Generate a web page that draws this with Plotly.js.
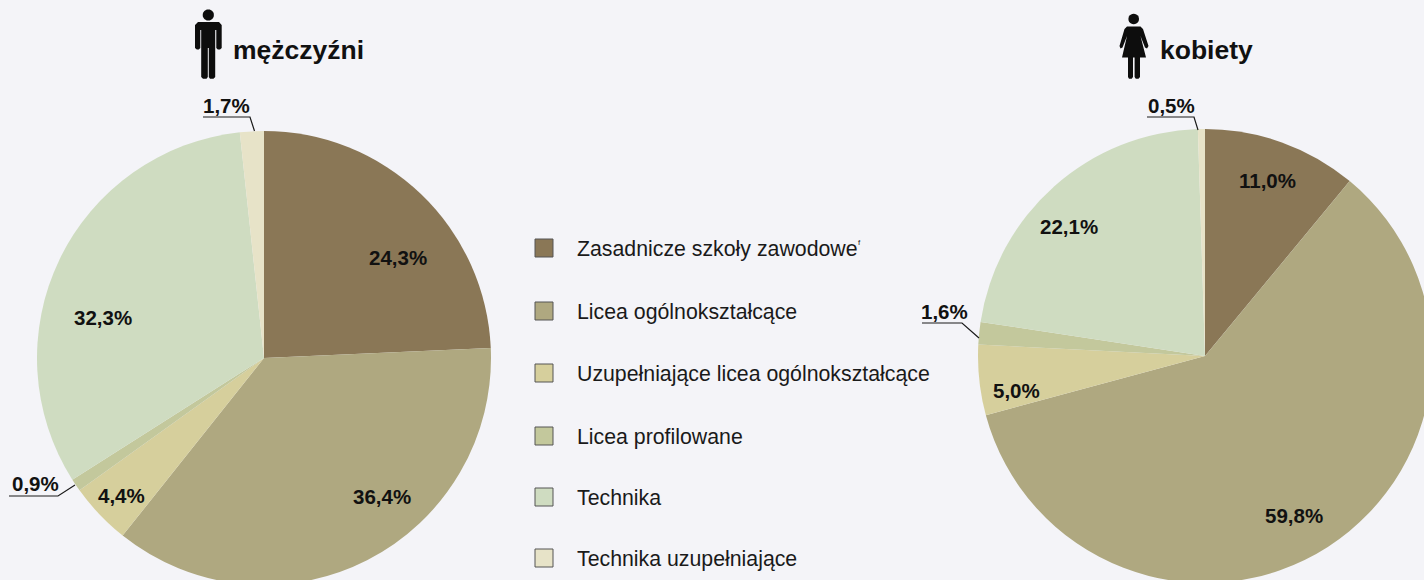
<!DOCTYPE html>
<html><head><meta charset="utf-8">
<script src="https://cdn.plot.ly/plotly-3.0.1.min.js"></script>
<style>html,body{margin:0;padding:0;background:#f4f4f8;overflow:hidden;width:1424px;height:580px}#c{width:1500px;height:640px}</style>
</head><body><div id="c"></div>
<script>
const categories = ['Zasadnicze szkoły zawodowe','Licea ogólnokształcące','Uzupełniające licea ogólnokształcące','Licea profilowane','Technika','Technika uzupełniające'];
const menValues = [24.3,36.4,4.4,0.9,32.3,1.7];
const womenValues = [11.0,59.8,5.0,1.6,22.1,0.5];
const colors = ['#8a7756','#afa880','#d6cf9c','#c3c89c','#cfdcc1','#e7e3c8'];
const legendY = [248,311,373,436,497,558];
const menLabelPos = [[398,257],[382,496],[122,495],[35,483],[103,317],[226,105]];
const womenLabelPos = [[1267,180],[1294,515],[1016,390],[944,311],[1069,226],[1171,105]];

const W = 1500, H = 640;
const px = x => x / W, py = y => 1 - y / H;
const fmt = v => v.toFixed(1).replace('.', ',') + '%';
const FONT = '"Liberation Sans", Arial, sans-serif';

function pie(values, x0, x1, y0, y1) {
  return {type:'pie', values, labels:categories, sort:false, direction:'clockwise', rotation:0,
    marker:{colors, line:{color:'#f4f4f8', width:0}}, textinfo:'none', hoverinfo:'label+percent',
    showlegend:false, domain:{x:[px(x0),px(x1)], y:[py(y1),py(y0)]}};
}
const annotations = [], shapes = [];
function txt(text, x, y, size, bold, anchor) {
  annotations.push({text: bold ? '<b>'+text+'</b>' : text, x:px(x), y:py(y), xref:'paper', yref:'paper',
    xanchor:anchor||'center', yanchor:'middle', showarrow:false, font:{family:FONT, size, color:bold?'#111':'#1a1a1a'}, borderpad:0, borderwidth:0});
}
menValues.forEach((v,i)=>txt(fmt(v), menLabelPos[i][0], menLabelPos[i][1], 20.5, true));
womenValues.forEach((v,i)=>txt(fmt(v), womenLabelPos[i][0], womenLabelPos[i][1], 20.5, true));
txt('mężczyźni', 233, 50, 26.5, true, 'left');
txt('kobiety', 1160, 50, 26.5, true, 'left');
categories.forEach((t,i)=>{
  txt(t, 577, legendY[i]+1, 21.3, false, 'left');
  shapes.push({type:'rect', xref:'paper', yref:'paper', x0:px(535), x1:px(553), y0:py(legendY[i]-9), y1:py(legendY[i]+9),
    fillcolor:colors[i], line:{color:'#555', width:1}});
});
txt('f', 859, 243, 8, false);
function poly(list){ return 'M'+list.map(p=>px(p[0])+','+py(p[1])).join(' L')+' Z'; }
function circle(cx,cy,r){
  const a=[]; for(let k=0;k<24;k++){const t=k/24*2*Math.PI;a.push([cx+r*Math.cos(t),cy+r*Math.sin(t)]);} return poly(a);
}
function dark(d){ shapes.push({type:'path', xref:'paper', yref:'paper', path:d, fillcolor:'#0d0d0d', line:{width:0}}); }
function leader(list){ shapes.push({type:'path', xref:'paper', yref:'paper',
  path:'M'+list.map(p=>px(p[0])+','+py(p[1])).join(' L'), line:{color:'#1a1a1a', width:1.2}}); }
leader([[203,117],[250,117],[254.5,131]]);
leader([[9,496],[58,496],[75,485]]);
leader([[922,323],[962,323],[979,338]]);
leader([[1147,117],[1194,117],[1198,130]]);

// man
dark(circle(208.3,15,5.6));
dark(poly([[198,22],[219,22],[221.7,25],[221.7,48],[220,49.5],[217.8,49.5],[216.3,48],[216.3,30],[215.2,30],[215.2,77],[213.5,78.7],[210,78.7],[208.8,77],[208.8,48],[207.8,48],[207.8,77],[206.5,78.7],[203,78.7],[201.2,77],[201.2,30],[200.3,30],[200.3,48],[198.8,49.5],[196.8,49.5],[195,48],[195,25]]));
// woman
dark(circle(1133.7,19,5.3));
dark(poly([[1127,26.5],[1140.5,26.5],[1143,29],[1148.5,46],[1147,48.5],[1145,47.5],[1140.5,36],[1146,57.5],[1140,57.5],[1140,77],[1138.5,78.7],[1135.8,78.7],[1134.6,77],[1134.6,57.5],[1133,57.5],[1133,77],[1131.7,78.7],[1129,78.7],[1128,77],[1128,57.5],[1122,57.5],[1127,36],[1122.5,47.5],[1120.5,48.5],[1119.5,46],[1124.5,29]]));

Plotly.newPlot('c', [
  pie(menValues, 37, 491, 131, 585),
  pie(womenValues, 978, 1432, 129, 583)
], {
  width:W, height:H, margin:{l:0,r:0,t:0,b:0}, paper_bgcolor:'#f4f4f8', plot_bgcolor:'#f4f4f8',
  showlegend:false, annotations, shapes, font:{family:FONT}
}, {displayModeBar:false, responsive:false});
</script></body></html>
